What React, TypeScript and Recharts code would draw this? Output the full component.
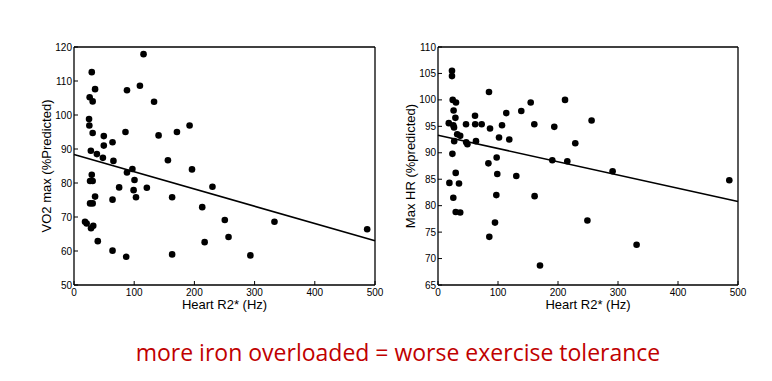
import { ScatterChart, Scatter, XAxis, YAxis } from "recharts";

// Left panel: VO2 max vs heart R2*
const vo2HeartR2 = [
  29.5, 35, 26, 31, 25, 25.5, 31, 28, 38, 48, 49.5, 49.5, 64, 65.5, 29.5, 26.7, 31, 35, 26.7, 31,
  18.3, 21, 28.3, 32, 39.5, 64, 86.7, 64, 75, 88, 97, 100.5, 99, 103, 121, 85.5, 88, 109.5, 115.5, 133,
  140.5, 171, 192, 156, 196, 163, 163, 213, 217, 230, 250.5, 256.7, 293, 333, 487,
];
const vo2Max = [
  112.6, 107.6, 105.2, 104, 98.8, 96.9, 94.7, 89.5, 88.5, 87.4, 93.8, 91, 92, 86.5, 82.4, 80.6, 80.6, 76, 74, 74,
  68.6, 68.1, 66.7, 67.4, 62.9, 60.1, 58.3, 75.1, 78.7, 83.1, 84.1, 80.9, 77.9, 75.8, 78.6, 95, 107.3, 108.6, 117.9, 103.9,
  94, 95, 96.9, 86.7, 84, 75.8, 59, 72.9, 62.6, 78.9, 69.1, 64.1, 58.7, 68.6, 66.4,
];
const vo2FitX = [0, 500];
const vo2FitY = [88.4, 63.0];
const vo2Ticks = [50, 60, 70, 80, 90, 100, 110, 120];

// Right panel: max HR vs heart R2*
const hrHeartR2 = [
  23.3, 23.3, 24.5, 30, 26, 18, 25.5, 29, 26.7, 32, 37, 27, 24, 46.7, 47, 49, 61.7, 62, 72.8, 63.3,
  85, 86.7, 101.7, 106.7, 113.8, 118.8, 138.8, 154.5, 160.5, 193.8, 211.7, 228.8, 190.5, 215.5, 84, 97.8, 98.8, 130.5, 29.5, 19,
  35, 25.5, 29.5, 37, 97.2, 95, 85.5, 161, 170, 249, 331, 256, 291, 485.5,
];
const maxHr = [
  105.5, 104.5, 100, 99.5, 98, 95.6, 95.2, 96.6, 94.8, 93.5, 93.2, 92.2, 89.8, 95.4, 92, 91.6, 97, 95.4, 95.4, 92.2,
  101.5, 94.6, 92.9, 95.2, 97.5, 92.5, 97.9, 99.5, 95.4, 94.9, 100, 91.8, 88.6, 88.4, 88, 89.1, 86, 85.6, 86.2, 84.3,
  84.2, 81.5, 78.8, 78.7, 82, 76.8, 74.1, 81.8, 68.7, 77.2, 72.6, 96.1, 86.5, 84.8,
];
const hrFitX = [0, 500];
const hrFitY = [93.3, 80.8];
const hrTicks = [65, 70, 75, 80, 85, 90, 95, 100, 105, 110];

const xTicks = [0, 100, 200, 300, 400, 500];

const toPoints = (xs: number[], ys: number[]) => xs.map((x, i) => ({ x, y: ys[i] }));

const FONT = "'Liberation Sans', Arial, sans-serif";
const axisStyle = { stroke: "#000", strokeWidth: 1.3 };

const Dot = (p: any) => <circle cx={p.cx} cy={p.cy} r={3.3} fill="#000" />;

interface PanelProps {
  left: number;
  width: number;
  points: { x: number; y: number }[];
  fit: { x: number; y: number }[];
  yDomain: [number, number];
  yTicks: number[];
  yLabel: string;
}

function Panel({ left, width, points, fit, yDomain, yTicks, yLabel }: PanelProps) {
  return (
    <div style={{ position: "absolute", left, top: 0 }}>
      <ScatterChart width={width} height={320} margin={{ top: 46, right: 24, bottom: 0, left: 0 }}>
        <XAxis
          xAxisId="b"
          type="number"
          dataKey="x"
          domain={[0, 500]}
          ticks={xTicks}
          height={35}
          axisLine={axisStyle}
          tickLine={{ stroke: "#000" }}
          tickSize={-4}
          tickMargin={8}
          tick={{ fill: "#000", fontSize: 10, fontFamily: FONT }}
          label={{
            value: "Heart R2* (Hz)",
            position: "insideTop",
            offset: 15,
            fill: "#000",
            fontSize: 13,
            fontFamily: FONT,
          }}
        />
        <XAxis
          xAxisId="t"
          orientation="top"
          type="number"
          dataKey="x"
          domain={[0, 500]}
          ticks={xTicks}
          height={1}
          axisLine={axisStyle}
          tickLine={{ stroke: "#000" }}
          tickSize={-4}
          tick={false}
        />
        <YAxis
          yAxisId="l"
          type="number"
          dataKey="y"
          domain={yDomain}
          ticks={yTicks}
          width={74}
          axisLine={axisStyle}
          tickLine={{ stroke: "#000" }}
          tickSize={-4}
          tickMargin={6}
          tick={{ fill: "#000", fontSize: 10, fontFamily: FONT }}
          label={{
            value: yLabel,
            angle: -90,
            position: "insideLeft",
            offset: 46,
            fill: "#000",
            fontSize: 13,
            fontFamily: FONT,
            style: { textAnchor: "middle" },
          }}
        />
        <YAxis
          yAxisId="r"
          orientation="right"
          type="number"
          dataKey="y"
          domain={yDomain}
          ticks={yTicks}
          width={1}
          axisLine={axisStyle}
          tickLine={{ stroke: "#000" }}
          tickSize={-4}
          tick={false}
        />
        <Scatter xAxisId="b" yAxisId="l" data={points} shape={Dot} isAnimationActive={false} />
        <Scatter
          xAxisId="t"
          yAxisId="r"
          data={fit}
          line={{ stroke: "#000", strokeWidth: 1.6 }}
          shape={() => <g />}
          isAnimationActive={false}
        />
      </ScatterChart>
    </div>
  );
}

export default function App() {
  return (
    <div
      style={{
        position: "absolute",
        left: 0,
        top: 0,
        width: 772,
        height: 381,
        background: "#fff",
        overflow: "hidden",
      }}
    >
      <Panel
        left={0}
        width={400}
        points={toPoints(vo2HeartR2, vo2Max)}
        fit={toPoints(vo2FitX, vo2FitY)}
        yDomain={[50, 120]}
        yTicks={vo2Ticks}
        yLabel="VO2 max (%Predicted)"
      />
      <Panel
        left={364}
        width={399}
        points={toPoints(hrHeartR2, maxHr)}
        fit={toPoints(hrFitX, hrFitY)}
        yDomain={[65, 110]}
        yTicks={hrTicks}
        yLabel="Max HR (%predicted)"
      />
      <div
        style={{
          position: "absolute",
          left: 0,
          width: 796,
          top: 336,
          height: 32,
          lineHeight: "32px",
          textAlign: "center",
          color: "#c00000",
          fontFamily: "'Open Sans', sans-serif",
          fontSize: 23,
        }}
      >
        more iron overloaded = worse exercise tolerance
      </div>
    </div>
  );
}
